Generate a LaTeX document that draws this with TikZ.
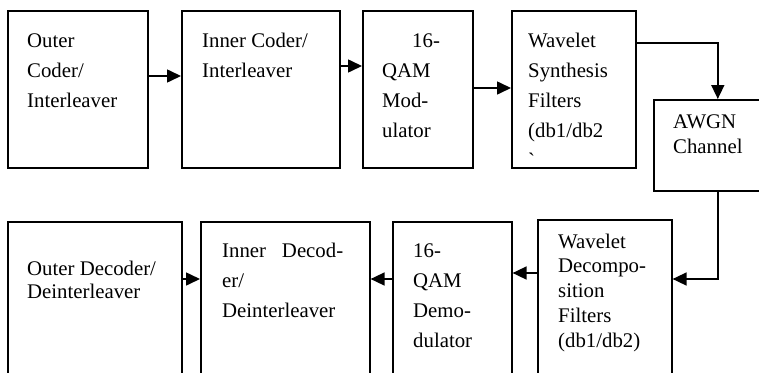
\documentclass[tikz,border=0pt]{standalone}
\usepackage{fontspec}
\setmainfont{Liberation Serif}
\usetikzlibrary{arrows.meta}

\begin{document}
\begin{tikzpicture}
[
x=1pt,y=-1pt,
block/.style 2 args={draw,line width=1.6pt,rectangle,anchor=north west,inner sep=0pt,minimum width=#1,minimum height=#2},
txt/.style={anchor=north west,inner sep=0pt,align=left,font=\fontsize{20.8}{#1}\selectfont},
txt/.default=30,
arr/.style={line width=1.6pt,-{Triangle[length=14pt,width=13pt]}},
]
\useasboundingbox (0,0) rectangle (759,372);

%Place the nodes
\node[block={140pt}{157pt}] (ocoder) at (7,10) {};
\node[block={158pt}{157pt}] (icoder) at (181,10) {};
\node[block={110pt}{157pt}] (qmod) at (362,10) {};
\node[block={124pt}{157pt}] (wsyn) at (511,10) {};
\node[block={128pt}{91pt}] (awgn) at (653,99) {};
\node[block={174pt}{170pt}] (odec) at (7,221) {};
\node[block={169pt}{170pt}] (idec) at (200,221) {};
\node[block={119pt}{170pt}] (qdem) at (392,221) {};
\node[block={134pt}{172pt}] (wdec) at (537,219) {};

%Place the texts
\node[txt] (ocoder-t) at (27,32) {\rule{0pt}{15pt}Outer\\Coder/\\Interleaver};
\node[txt] (icoder-t) at (202,32) {\rule{0pt}{15pt}Inner Coder/\\Interleaver};
\node[txt] (qmod-t) at (382,32) {\rule{0pt}{15pt}\hspace*{30pt}16-\\QAM\\Mod-\\ulator};
\node[txt] (wsyn-t) at (528,32) {\rule{0pt}{15pt}Wavelet\\Synthesis\\Filters\\(db1/db2\\\textasciigrave};
\node[txt=25] (awgn-t) at (673,113) {\rule{0pt}{15pt}AWGN\\Channel};
\node[txt=23] (odec-t) at (27,260) {\rule{0pt}{15pt}Outer Decoder/\\Deinterleaver};
\node[txt,text width=121pt] (idec-t) at (222,242) {\rule{0pt}{15pt}Inner\hfill Decod-\\er/\\Deinterleaver};
\node[txt] (qdem-t) at (413,242) {\rule{0pt}{15pt}16-\\QAM\\Demo-\\dulator};
\node[txt=24.7] (wdec-t) at (558,233) {\rule{0pt}{15pt}Wavelet\\Decompo-\\sition\\Filters\\(db1/db2)};

%Draw the connections
\draw[arr] (ocoder.east |- 0,76) -- (icoder.west |- 0,76);
\draw[arr] (icoder.east |- 0,66) -- (qmod.west |- 0,66);
\draw[arr] (qmod.east |- 0,88) -- (wsyn.west |- 0,88);
\draw[arr] (wsyn.east |- 0,43) -| (awgn.north);
\draw[arr] (awgn.south) |- (wdec.east |- 0,279);
\draw[arr] (wdec.west |- 0,273) -- (qdem.east |- 0,273);
\draw[arr] (qdem.west |- 0,279) -- (idec.east |- 0,279);
\draw[arr] (odec.east |- 0,279) -- (idec.west |- 0,279);
\end{tikzpicture}
\end{document}
